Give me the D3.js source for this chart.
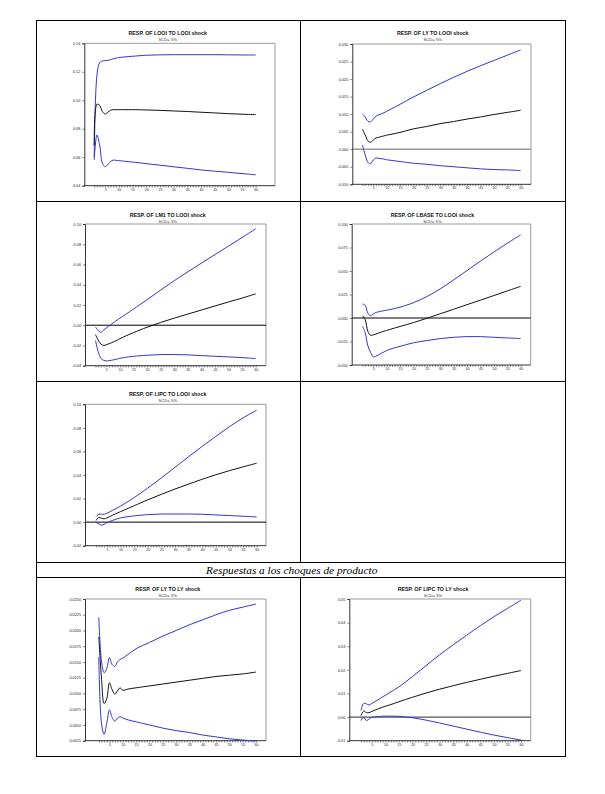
<!DOCTYPE html>
<html><head><meta charset="utf-8">
<script src="https://cdn.jsdelivr.net/npm/d3@7"></script>
<style>html,body{margin:0;padding:0;background:#fff;} svg{display:block;}</style>
</head><body>
<svg id="c" width="605" height="794"></svg>
<script>
// ---------- DATA ----------
const periods = [1,2,3,4,5,6,7,8,9,10,12,15,20,25,30,35,40,45,50,55,60];
const xTickLabels = [5,10,15,20,25,30,35,40,45,50,55,60];
const subtitle = "SCD= 5%";
const header = "Respuestas a los choques de producto";

const titles = [
  "RESP. OF LOOI TO LOOI shock",
  "RESP. OF LY TO LOOI shock",
  "RESP. OF LM1 TO LOOI shock",
  "RESP. OF LBASE TO LOOI shock",
  "RESP. OF LIPC TO LOOI shock",
  "RESP. OF LY TO LY shock",
  "RESP. OF LIPC TO LY shock"
];

// Panel 1: LOOI to LOOI
const upper1 = [0.0600,0.1177,0.1264,0.1276,0.1278,0.1280,0.1285,0.1292,0.1296,0.1300,0.1304,0.1309,0.1316,0.1319,0.1320,0.1320,0.1320,0.1320,0.1319,0.1318,0.1318];
const mid1   = [0.0680,0.0972,0.0964,0.0920,0.0904,0.0916,0.0930,0.0934,0.0934,0.0934,0.0934,0.0934,0.0932,0.0929,0.0925,0.0921,0.0916,0.0911,0.0906,0.0902,0.0899];
const lower1 = [0.0580,0.0756,0.0686,0.0557,0.0533,0.0550,0.0570,0.0580,0.0578,0.0576,0.0572,0.0566,0.0555,0.0544,0.0533,0.0522,0.0511,0.0502,0.0494,0.0485,0.0477];
const yTicks1 = [0.04,0.06,0.08,0.10,0.12,0.14];
const yLabels1 = ["0.04","0.06","0.08","0.10","0.12","0.14"];

// Panel 2: LY to LOOI
const upper2 = [0.0100,0.0092,0.0080,0.0078,0.0086,0.0094,0.0098,0.0101,0.0104,0.0108,0.0116,0.0128,0.0149,0.0168,0.0187,0.0205,0.0222,0.0238,0.0253,0.0268,0.0283];
const mid2   = [0.0057,0.0041,0.0024,0.0020,0.0026,0.0032,0.0034,0.0036,0.0038,0.0040,0.0043,0.0048,0.0058,0.0065,0.0073,0.0079,0.0086,0.0092,0.0099,0.0105,0.0111];
const lower2 = [0.0012,-0.0016,-0.0037,-0.0041,-0.0031,-0.0025,-0.0026,-0.0027,-0.0028,-0.0030,-0.0032,-0.0035,-0.0040,-0.0043,-0.0047,-0.0050,-0.0053,-0.0056,-0.0058,-0.0059,-0.0061];
const yTicks2 = [-0.010,-0.005,0.000,0.005,0.010,0.015,0.020,0.025,0.030];
const yLabels2 = ["-0.010","-0.005","0.000","0.005","0.010","0.015","0.020","0.025","0.030"];

// Panel 3: LM1 to LOOI
const upper3 = [-0.0017,-0.0053,-0.0070,-0.0047,-0.0027,-0.0007,0.0013,0.0033,0.0052,0.0070,0.0105,0.0160,0.0252,0.0347,0.0440,0.0527,0.0613,0.0698,0.0782,0.0867,0.0953];
const mid3   = [-0.0093,-0.0147,-0.0187,-0.0200,-0.0193,-0.0183,-0.0172,-0.0160,-0.0147,-0.0133,-0.0108,-0.0073,-0.0020,0.0027,0.0070,0.0110,0.0150,0.0190,0.0230,0.0268,0.0310];
const lower3 = [-0.0150,-0.0263,-0.0327,-0.0347,-0.0353,-0.0350,-0.0346,-0.0340,-0.0334,-0.0327,-0.0318,-0.0307,-0.0297,-0.0290,-0.0290,-0.0293,-0.0300,-0.0307,-0.0313,-0.0320,-0.0330];
const yTicks3 = [-0.04,-0.02,0.00,0.02,0.04,0.06,0.08,0.10];
const yLabels3 = ["-0.04","-0.02","0.00","0.02","0.04","0.06","0.08","0.10"];

// Panel 4: LBASE to LOOI
const upper4 = [0.0149,0.0135,0.0052,0.0024,0.0042,0.0059,0.0066,0.0073,0.0078,0.0083,0.0094,0.0115,0.0163,0.0228,0.0310,0.0405,0.0505,0.0605,0.0702,0.0795,0.0885];
const mid4   = [0.0024,-0.0017,-0.0142,-0.0184,-0.0180,-0.0170,-0.0160,-0.0150,-0.0141,-0.0132,-0.0115,-0.0090,-0.0049,-0.0003,0.0045,0.0093,0.0142,0.0190,0.0239,0.0288,0.0337];
const lower4 = [-0.0087,-0.0156,-0.0295,-0.0365,-0.0413,-0.0406,-0.0392,-0.0375,-0.0361,-0.0347,-0.0325,-0.0302,-0.0264,-0.0240,-0.0219,-0.0205,-0.0198,-0.0198,-0.0205,-0.0212,-0.0219];
const yTicks4 = [-0.050,-0.025,0.000,0.025,0.050,0.075,0.100];
const yLabels4 = ["-0.050","-0.025","0.000","0.025","0.050","0.075","0.100"];

// Panel 5: LIPC to LOOI
const upper5 = [0.0047,0.0067,0.0067,0.0067,0.0075,0.0086,0.0100,0.0111,0.0123,0.0136,0.0164,0.0208,0.0289,0.0375,0.0465,0.0555,0.0643,0.0728,0.0810,0.0885,0.0950];
const mid5   = [0.0014,0.0039,0.0033,0.0028,0.0036,0.0047,0.0058,0.0069,0.0079,0.0089,0.0109,0.0139,0.0189,0.0236,0.0281,0.0323,0.0364,0.0402,0.0437,0.0469,0.0500];
const lower5 = [-0.0003,-0.0014,-0.0025,-0.0019,-0.0006,0.0006,0.0014,0.0022,0.0029,0.0036,0.0044,0.0053,0.0064,0.0069,0.0069,0.0069,0.0067,0.0061,0.0056,0.0050,0.0044];
const yTicks5 = [-0.02,0.00,0.02,0.04,0.06,0.08,0.10];
const yLabels5 = ["-0.02","0.00","0.02","0.04","0.06","0.08","0.10"];

// Panel 6: LY to LY
const upper6 = [0.0221,0.0152,0.0133,0.0140,0.0157,0.0146,0.0143,0.0150,0.0154,0.0156,0.0162,0.0171,0.0181,0.0191,0.0200,0.0209,0.0217,0.0225,0.0232,0.0237,0.0242];
const mid6   = [0.0190,0.0125,0.0084,0.0092,0.0117,0.0106,0.0099,0.0104,0.0109,0.0105,0.0107,0.0109,0.0112,0.0115,0.0118,0.0121,0.0124,0.0127,0.0129,0.0131,0.0134];
const lower6 = [0.0158,0.0053,0.0035,0.0053,0.0074,0.0062,0.0056,0.0061,0.0063,0.0061,0.0058,0.0055,0.0050,0.0045,0.0041,0.0038,0.0034,0.0031,0.0028,0.0026,0.00245];
const yTicks6 = [0.0025,0.0050,0.0075,0.0100,0.0125,0.0150,0.0175,0.0200,0.0225,0.0250];
const yLabels6 = ["0.0025","0.0050","0.0075","0.0100","0.0125","0.0150","0.0175","0.0200","0.0225","0.0250"];

// Panel 7: LIPC to LY
const upper7 = [0.0028,0.0058,0.0056,0.0051,0.0058,0.0065,0.0071,0.0078,0.0086,0.0092,0.0107,0.0128,0.0172,0.0218,0.0264,0.0306,0.0347,0.0387,0.0425,0.0460,0.0495];
const mid7   = [0.0006,0.0026,0.0019,0.0019,0.0024,0.0029,0.0033,0.0038,0.0042,0.0046,0.0053,0.0065,0.0084,0.0102,0.0118,0.0133,0.0147,0.0160,0.0173,0.0185,0.0197];
const lower7 = [-0.0015,-0.0001,-0.0015,-0.0008,-0.0001,0.0001,0.0002,0.0003,0.0004,0.0004,0.0004,0.0003,-0.0003,-0.0013,-0.0025,-0.0038,-0.0051,-0.0064,-0.0076,-0.0087,-0.0097];
const yTicks7 = [-0.01,0.00,0.01,0.02,0.03,0.04,0.05];
const yLabels7 = ["-0.01","0.00","0.01","0.02","0.03","0.04","0.05"];

// ---------- LAYOUT ----------
const svg = d3.select("#c");
const BLUE = "#3434d2";

// table frame
const T = {l:36.5, r:565.5, t:20.5, b:756.5, mid:300.5, r1:201.5, r2:381.5, h1:562.5, h2:577.5};
const g0 = svg.append("g").attr("stroke","#000").attr("stroke-width",1).attr("fill","none");
g0.append("rect").attr("x",T.l).attr("y",T.t).attr("width",T.r-T.l).attr("height",T.b-T.t);
[[T.l,T.r1,T.r,T.r1],[T.l,T.r2,T.r,T.r2],[T.l,T.h1,T.r,T.h1],[T.l,T.h2,T.r,T.h2],
 [T.mid,T.t,T.mid,T.h1],[T.mid,T.h2,T.mid,T.b]].forEach(d=>{
  g0.append("line").attr("x1",d[0]).attr("y1",d[1]).attr("x2",d[2]).attr("y2",d[3]);
});
svg.append("text").attr("x",291.7).attr("y",573.6).attr("text-anchor","middle")
  .attr("font-family","'Liberation Serif','Times New Roman',serif").attr("font-style","italic")
  .attr("font-size",11.3).attr("fill","#000").text(header);

const panels = [
  {box:[84.3,43.3,275,185.7], x1:94.2, x60:255.7, dom:[0.04,0.14], tc:167.7, ty:32.7, up:upper1, md:mid1, lo:lower1, yt:yTicks1, yl:yLabels1, zero:null},
  {box:[352.3,44,531,184.3], x1:362.5, x60:520.7, dom:[-0.010,0.030], tc:432.7, ty:33.3, up:upper2, md:mid2, lo:lower2, yt:yTicks2, yl:yLabels2, zero:{c:"#999",w:1.6}},
  {box:[85,224,266,365.7], x1:95.5, x60:255.7, dom:[-0.04,0.10], tc:167.7, ty:215, up:upper3, md:mid3, lo:lower3, yt:yTicks3, yl:yLabels3, zero:{c:"#000",w:1}},
  {box:[351.7,224,530.7,365], x1:362.5, x60:520.7, dom:[-0.050,0.100], tc:432.4, ty:215, up:upper4, md:mid4, lo:lower4, yt:yTicks4, yl:yLabels4, zero:{c:"#000",w:1}},
  {box:[85,404.3,266,545.7], x1:96, x60:256.7, dom:[-0.02,0.10], tc:167.7, ty:394.3, up:upper5, md:mid5, lo:lower5, yt:yTicks5, yl:yLabels5, zero:{c:"#000",w:1}},
  {box:[85,599,266,740.7], x1:98.8, x60:256, dom:[0.0025,0.0250], tc:167.8, ty:589.3, up:upper6, md:mid6, lo:lower6, yt:yTicks6, yl:yLabels6, zero:null},
  {box:[349.3,599,530.7,740.7], x1:361, x60:521, dom:[-0.01,0.05], tc:433, ty:589.3, up:upper7, md:mid7, lo:lower7, yt:yTicks7, yl:yLabels7, zero:{c:"#555",w:1.1}}
];

const allPeriods = d3.range(1,61);

panels.forEach((p,i)=>{
  const [L,Tp,R,B] = p.box;
  const x = d3.scaleLinear().domain([1,60]).range([p.x1,p.x60]);
  const y = d3.scaleLinear().domain(p.dom).range([B,Tp]);
  const g = svg.append("g");

  // title & subtitle
  g.append("text").attr("x",p.tc).attr("y",p.ty+1.9).attr("text-anchor","middle")
    .attr("font-family","'Liberation Sans',Arial,sans-serif").attr("font-weight","bold")
    .attr("font-size",5.3).attr("fill","#111").text(titles[i]);
  g.append("text").attr("x",p.tc).attr("y",p.ty+8.1).attr("text-anchor","middle")
    .attr("font-family","'Liberation Sans',Arial,sans-serif")
    .attr("font-size",4.2).attr("fill","#333").text(subtitle);

  // frame: top/right gray, left/bottom dark
  g.append("line").attr("x1",L).attr("y1",Tp).attr("x2",R).attr("y2",Tp).attr("stroke","#9a9a9a").attr("stroke-width",1);
  g.append("line").attr("x1",R).attr("y1",Tp).attr("x2",R).attr("y2",B).attr("stroke","#9a9a9a").attr("stroke-width",1);

  // zero line
  if (p.zero) {
    g.append("line").attr("x1",L).attr("x2",R).attr("y1",y(0)).attr("y2",y(0))
      .attr("stroke",p.zero.c).attr("stroke-width",p.zero.w);
  }

  // y axis
  const yAxis = d3.axisLeft(y).tickValues(p.yt).tickSize(2).tickPadding(2)
    .tickFormat((d,k)=>p.yl[k]);
  const ya = g.append("g").attr("transform",`translate(${L},0)`).call(yAxis);
  ya.select(".domain").attr("stroke","#333");
  ya.selectAll(".tick line").attr("stroke","#333").attr("stroke-width",0.6);
  ya.selectAll("text").attr("font-family","'Liberation Sans',Arial,sans-serif").attr("font-size",3.8).attr("fill","#222");

  // x axis: minor ticks every period
  const xa = g.append("g").attr("transform",`translate(0,${B})`)
    .call(d3.axisBottom(x).tickValues(allPeriods).tickSize(1.8).tickFormat(""));
  xa.select(".domain").attr("stroke","#333").attr("d",`M${L},0H${R}`);
  xa.selectAll(".tick line").attr("stroke","#333").attr("stroke-width",0.6);
  const xl = g.append("g").attr("transform",`translate(0,${B})`)
    .call(d3.axisBottom(x).tickValues(xTickLabels).tickSize(0).tickPadding(2.6));
  xl.select(".domain").remove();
  xl.selectAll("text").attr("font-family","'Liberation Sans',Arial,sans-serif").attr("font-size",3.6).attr("fill","#222");

  // lines
  const line = d3.line().x((d,k)=>x(periods[k])).y(d=>y(d)).curve(d3.curveCatmullRom.alpha(0.5));
  g.append("path").datum(p.up).attr("d",line).attr("fill","none").attr("stroke",BLUE).attr("stroke-width",1);
  g.append("path").datum(p.lo).attr("d",line).attr("fill","none").attr("stroke",BLUE).attr("stroke-width",1);
  g.append("path").datum(p.md).attr("d",line).attr("fill","none").attr("stroke","#111").attr("stroke-width",1);
});
</script>
</body></html>
